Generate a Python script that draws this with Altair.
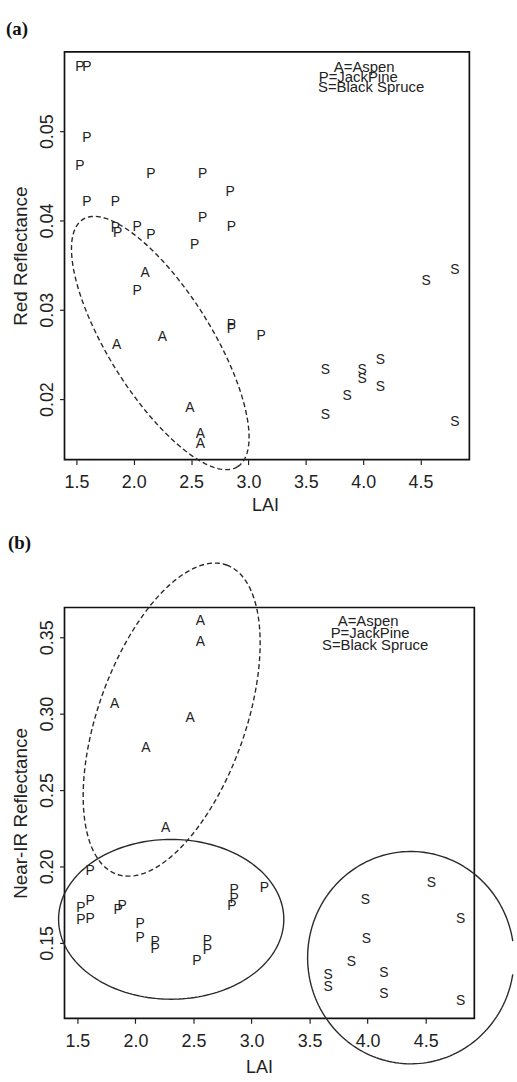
import altair as alt
import numpy as np
import pandas as pd

# ---------------- Panel (a): Red reflectance vs LAI ----------------
a_lai_A = [2.10, 1.85, 2.25, 2.49, 2.58, 2.58]
a_red_A = [0.0341, 0.0260, 0.0270, 0.0190, 0.0161, 0.0150]
a_lai_P = [1.53, 1.59, 1.59, 1.53, 1.59, 1.84, 2.15, 2.60, 2.84, 2.60, 2.85,
           1.84, 1.86, 2.03, 2.15, 2.53, 2.03, 2.85, 2.85, 3.11]
a_red_P = [0.0572, 0.0572, 0.0492, 0.0461, 0.0421, 0.0421, 0.0452, 0.0452, 0.0432,
           0.0403, 0.0393, 0.0392, 0.0386, 0.0393, 0.0384, 0.0373, 0.0321, 0.0283,
           0.0278, 0.0271]
a_lai_S = [4.55, 4.80, 3.67, 3.99, 3.99, 4.15, 4.15, 3.86, 3.67, 4.80]
a_red_S = [0.0332, 0.0344, 0.0232, 0.0233, 0.0222, 0.0244, 0.0213, 0.0203, 0.0182, 0.0174]

# ---------------- Panel (b): Near-IR reflectance vs LAI ----------------
b_lai_A = [2.56, 2.56, 1.82, 2.47, 2.09, 2.26]
b_nir_A = [0.3604, 0.3468, 0.3065, 0.2974, 0.2773, 0.2253]
b_lai_P = [1.61, 1.53, 1.61, 1.53, 1.61, 1.85, 1.885, 2.04, 2.04, 2.17, 2.17,
           2.53, 2.62, 2.62, 2.85, 2.85, 2.83, 3.11]
b_nir_P = [0.1968, 0.1727, 0.1773, 0.1649, 0.1656, 0.1714, 0.1740, 0.1623, 0.1532,
           0.1506, 0.1461, 0.1383, 0.1513, 0.1455, 0.1844, 0.1786, 0.1740, 0.1857]
b_lai_S = [4.55, 3.98, 4.80, 3.99, 3.86, 3.66, 3.66, 4.14, 4.14, 4.80]
b_nir_S = [0.189, 0.178, 0.1656, 0.1526, 0.1377, 0.1286, 0.1208, 0.1305, 0.1162, 0.1117]

legend_lines = ["A=Aspen", "P=JackPine", "S=Black Spruce"]
x_ticks = [1.5, 2.0, 2.5, 3.0, 3.5, 4.0, 4.5]
a_y_ticks = [0.02, 0.03, 0.04, 0.05]
b_y_ticks = [0.10, 0.15, 0.20, 0.25, 0.30, 0.35]

# group ellipses: centre, and two conjugate semi-axis vectors (data units)
ell_a = ((2.231, 0.02628), (0.674, -0.01385), (-0.381, -0.00306))
ell_b_dash = ((2.312, 0.2961), (0.4726, 0.1012), (0.598, -0.0161))
ell_b_pine = ((2.308, 0.1654), (0.970, 0.0), (0.0, 0.0523))
ell_b_spruce = ((4.372, 0.1403), (0.889, 0.0), (0.0, 0.0695))

FONT = "Liberation Sans"
INK = "#222222"


def pts(lai_lists, val_lists):
    rows = []
    for sp, lx, ly in zip(["A", "P", "S"], lai_lists, val_lists):
        for x, y in zip(lx, ly):
            rows.append({"x": x, "y": y, "sp": sp})
    return pd.DataFrame(rows)


def ellipse(e, t0=0.0, t1=360.0, n=181):
    (cx, cy), U, V = e
    t = np.radians(np.linspace(t0, t1, n))
    return pd.DataFrame({
        "x": cx + np.cos(t) * U[0] + np.sin(t) * V[0],
        "y": cy + np.cos(t) * U[1] + np.sin(t) * V[1],
        "i": np.arange(n),
    })


def panel(df, ells, xdom, ydom, yticks, ytitle, w, h, xtitle_x, xtitle_y,
          legend_pos, tag, tag_y):
    X = alt.X("x:Q", scale=alt.Scale(domain=xdom, nice=False, zero=False),
              axis=alt.Axis(values=x_ticks, format=".1f", title="LAI",
                            tickSize=5, labelPadding=23, labelBaseline="alphabetic",
                            labelFontSize=18, titleFontSize=18, titleFontWeight="normal",
                            titleX=xtitle_x, titleY=xtitle_y, titleBaseline="alphabetic",
                            grid=False, domain=False, labelFlush=False))
    Y = alt.Y("y:Q", scale=alt.Scale(domain=ydom, nice=False, zero=False),
              axis=alt.Axis(values=yticks, format=".2f", title=ytitle,
                            tickSize=5, labelPadding=7, labelAngle=270,
                            labelAlign="center", labelBaseline="alphabetic",
                            labelFontSize=18, titleFontSize=19, titleFontWeight="normal",
                            titleAngle=270, titleX=-38.5, titleBaseline="alphabetic",
                            grid=False, domain=False, labelFlush=False))
    layers = [
        alt.Chart(df).mark_text(font=FONT, fontSize=14, color=INK,
                                align="center", baseline="middle")
        .encode(x=X, y=Y, text="sp:N")
    ]
    for e, dashed in ells:
        kw = dict(color="#2a2a2a", strokeWidth=1.4, clip=False)
        if dashed:
            kw["strokeDash"] = [5, 3]
        layers.append(alt.Chart(e).mark_line(**kw)
                      .encode(x=X, y=Y, order="i:Q"))
    one = pd.DataFrame({"k": [0]})
    for line, (lx, ly) in zip(legend_lines, legend_pos):
        layers.append(alt.Chart(one).mark_text(text=line, font=FONT, fontSize=15,
                                               color=INK, align="center",
                                               baseline="middle")
                      .encode(x=alt.value(lx), y=alt.value(ly)))
    layers.append(alt.Chart(one).mark_text(text=tag, font="Liberation Serif",
                                           fontWeight="bold", fontSize=19, color="#111",
                                           align="left", baseline="middle")
                  .encode(x=alt.value(tag_y[0]), y=alt.value(tag_y[1])))
    return alt.layer(*layers).properties(width=w, height=h)


df_a = pts([a_lai_A, a_lai_P, a_lai_S], [a_red_A, a_red_P, a_red_S])
df_b = pts([b_lai_A, b_lai_P, b_lai_S], [b_nir_A, b_nir_P, b_nir_S])

chart_a = panel(
    df_a, [(ellipse(ell_a), True)],
    [1.396, 4.926], [0.01322, 0.0589], a_y_ticks, "Red Reflectance",
    408, 411, 202, 51,
    [(302, 15), (296, 25), (309, 36)], "(a)", (-59, -23))

chart_b = panel(
    df_b, [(ellipse(ell_b_dash), True), (ellipse(ell_b_pine), False),
           (ellipse(ell_b_spruce, 9.0, 351.0), False)],
    [1.389, 4.919], [0.1006, 0.3695], b_y_ticks, "Near-IR Reflectance",
    413, 414, 196, 55,
    [(306, 14), (308, 26), (313, 38)], "(b)", (-57, -65))

chart = (
    alt.vconcat(chart_a, chart_b, spacing=149, bounds="flush")
    .properties(padding={"left": 5, "top": 15, "right": 0, "bottom": 0})
    .configure_view(stroke="#111111", strokeWidth=1.7)
    .configure_axis(labelFont=FONT, titleFont=FONT, labelColor=INK, titleColor=INK,
                    tickColor=INK, tickWidth=1.2)
)

chart.save("out.html", embed_options={"renderer": "svg", "actions": False})
